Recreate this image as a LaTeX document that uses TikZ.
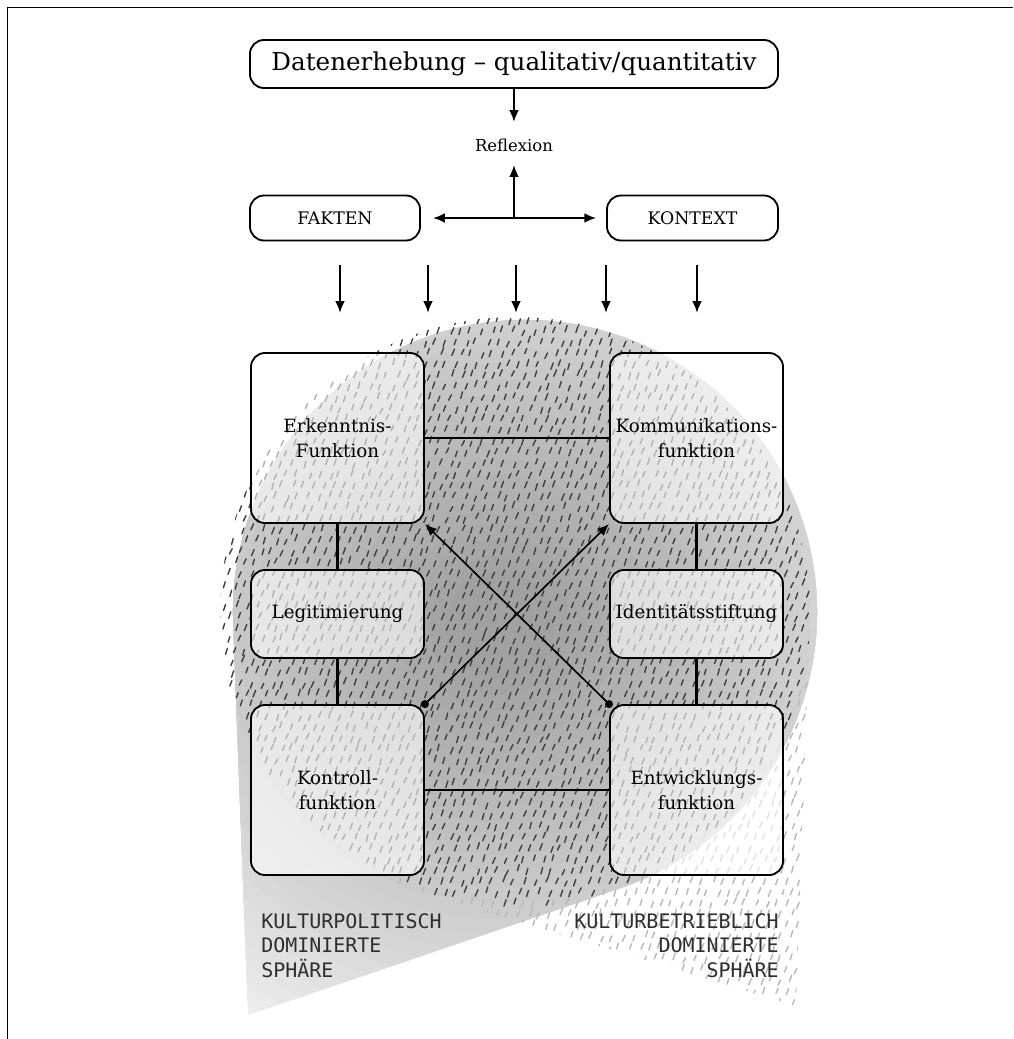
\documentclass[tikz,border=0pt]{standalone}
\usepackage{fontspec}
\setmainfont{DejaVu Serif}
\setmonofont{DejaVu Sans Mono}
\usetikzlibrary{arrows.meta}

\colorlet{hatchdark}{black!75}
\colorlet{hatchlight}{black!28}

\begin{document}
\begin{tikzpicture}[x=0.025cm, y=-0.025cm]
  \tikzset{
    fnbox/.style={draw, line width=1.3pt, rounded corners=0.35cm,
      fill=white, fill opacity=0.6, text opacity=1, inner sep=0pt,
      minimum width=4.325cm, align=center,
      font=\fontsize{13}{17.7}\selectfont},
    topbox/.style={draw, line width=1.3pt, rounded corners=0.35cm,
      fill=white, inner sep=0pt, align=center},
    arr/.style={-{Latex[length=8.5pt,width=7pt]}, line width=1.5pt},
    link/.style={line width=1.8pt},
    hatchdash/.style={line width=1pt, line cap=round},
    spheretext/.style={font=\ttfamily\fontsize{14.2}{17.4}\selectfont,
      text=black!82, inner sep=0pt},
  }
  \useasboundingbox (0,0) rectangle (1013,1039);

  % frame
  \draw[line width=1.4pt] (7.5,1039) -- (7.5,7.5) -- (1013,7.5);

  % spheres
  \def\lpath{(248,1015) -- (619.2,888.4) arc[start angle=71.17, end angle=-182.17, radius=292] -- cycle}
  \def\rpath{(796,1006) -- (809.8,622.6) arc[start angle=2.06, end angle=-253.06, radius=295] -- cycle}

  \begin{scope}
    \clip \lpath;
    \foreach \k in {0,...,26} {
      \pgfmathsetmacro{\gr}{470-16*\k}
      \pgfmathsetmacro{\gc}{7+1.15*\k}
      \fill[black!\gc] (500,625) circle (\gr);
    }
  \end{scope}

  \pgfmathsetseed{7}
  \begin{scope}
    \clip \rpath;
    \foreach \j in {0,...,63} {
      \foreach \i in {0,...,59} {
        \pgfmathsetmacro{\hx}{208+10.5*\i+2.5*rand+mod(\j,2)*5}
        \pgfmathsetmacro{\hy}{312+11*\j+2.5*rand}
        \pgfmathtruncatemacro{\hin}{veclen((\hx-515)/100,(\hy-612)/100)<2.95}
        \ifnum\hin=1 \def\hcol{hatchdark}\else\def\hcol{hatchlight}\fi
        \draw[hatchdash, \hcol] (\hx,\hy) -- ++(2.2+0.6*rand,-5.8-0.8*rand);
      }
    }
  \end{scope}

  % top
  \node[topbox, minimum width=13.2cm, minimum height=1.2cm,
    font=\fontsize{17.5}{20}\selectfont] (daten) at (514,64)
    {Datenerhebung – qualitativ/quantitativ};
  \node[inner sep=0pt, font=\fontsize{11.7}{14}\selectfont] (reflexion) at (514,145) {Reflexion};
  \node[topbox, minimum width=4.25cm, minimum height=1.125cm,
    font=\fontsize{12.3}{14}\selectfont] (fakten) at (335,218) {FAKTEN};
  \node[topbox, minimum width=4.275cm, minimum height=1.125cm,
    font=\fontsize{12.3}{14}\selectfont] (kontext) at (692.5,218) {KONTEXT};

  \coordinate (reftop) at (514,122);
  \coordinate (refbot) at (514,165);
  \draw[arr] (daten) -- (reftop);
  \draw[arr] (fakten -| reflexion) -- (refbot);
  \draw[arr, {Latex[length=8.5pt,width=7pt]}-{Latex[length=8.5pt,width=7pt]},
    shorten <=8.5pt, shorten >=7pt] (fakten) -- (kontext);

  \foreach \xa [count=\k] in {340,428,516,606,697} {
    \coordinate (in\k a) at (\xa,265);
    \coordinate (in\k b) at (\xa,313);
    \draw[arr] (in\k a) -- (in\k b);
  }

  % functions
  \node[fnbox, minimum height=4.25cm] (erkenntnis) at (337.5,438) {Erkenntnis-\\Funktion};
  \node[fnbox, minimum height=4.25cm] (kommunikation) at (696.5,438) {Kommunikations-\\funktion};
  \node[fnbox, minimum height=2.2cm] (legitimierung) at (337.5,614) {Legitimierung};
  \node[fnbox, minimum height=2.2cm] (identitaet) at (696.5,614) {Identitätsstiftung};
  \node[fnbox, minimum height=4.25cm] (kontroll) at (337.5,790) {Kontroll-\\funktion};
  \node[fnbox, minimum height=4.25cm] (entwicklung) at (696.5,790) {Entwicklungs-\\funktion};

  \draw[link] (erkenntnis) -- (kommunikation);
  \draw[link] (kontroll) -- (entwicklung);
  \draw[link] (erkenntnis) -- (legitimierung);
  \draw[link] (legitimierung) -- (kontroll);
  \draw[link] (kommunikation) -- (identitaet);
  \draw[link] (identitaet) -- (entwicklung);

  \draw[arr, line width=1.2pt] (kontroll.north east) -- (kommunikation.south west);
  \draw[arr, line width=1.2pt] (entwicklung.north west) -- (erkenntnis.south east);
  \fill (kontroll.north east) circle (4);
  \fill (entwicklung.north west) circle (4);

  % labels
  \node[spheretext, anchor=north west, align=left] (polsphere) at (261,913)
    {KULTURPOLITISCH\\DOMINIERTE\\SPHÄRE};
  \node[spheretext, anchor=north east, align=right] (betrsphere) at (779,913)
    {KULTURBETRIEBLICH\\DOMINIERTE\\SPHÄRE};
\end{tikzpicture}
\end{document}
